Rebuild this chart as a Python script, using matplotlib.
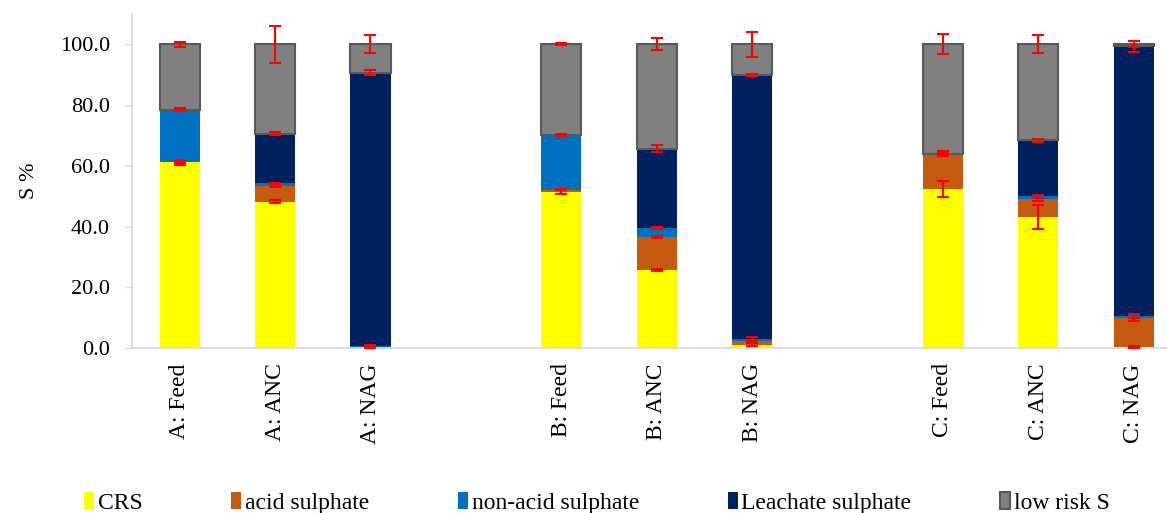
import matplotlib.pyplot as plt
import numpy as np

plt.rcParams['font.family'] = ['Liberation Serif', 'DejaVu Serif']

# Sulphur speciation per sample (% of total S)
categories = ["A: Feed", "A: ANC", "A: NAG",
              "B: Feed", "B: ANC", "B: NAG",
              "C: Feed", "C: ANC", "C: NAG"]
series_names = ["CRS", "acid sulphate", "non-acid sulphate", "Leachate sulphate", "low risk S"]

crs = [61.1, 48.1, 0.0, 51.4, 25.7, 1.0, 52.3, 43.2, 0.3]
acid = [0.0, 5.3, 0.0, 0.8, 10.9, 1.3, 11.7, 5.8, 9.7]
nonacid = [17.4, 0.8, 0.6, 17.9, 3.0, 0.7, 0.0, 1.0, 0.5]
leachate = [0.0, 16.4, 90.1, 0.0, 26.1, 86.8, 0.0, 18.4, 88.8]
lowrisk = [21.5, 29.4, 9.3, 29.9, 34.3, 10.2, 36.0, 31.6, 0.7]

crs_err = [0.7, 0.5, 0.3, 0.6, 0.3, 0.5, 2.6, 3.9, 0.2]
acid_err = [0.3, 0.5, 0.2, 0.3, 0.3, 0.3, 0.9, 0.5, 1.2]
nonacid_err = [0.5, 0.3, 0.3, 0.5, 0.3, 0.5, 0.3, 0.5, 0.5]
leachate_err = [0.3, 0.5, 0.7, 0.3, 1.1, 0.3, 0.3, 0.5, 1.8]
lowrisk_err = [0.9, 6.0, 3.0, 0.3, 2.0, 4.0, 3.3, 3.0, 1.0]

colors = ["#FFFF00", "#C55A11", "#0070C0", "#002060", "#808080"]

# empty slot between the three sample groups
x = np.array([0, 1, 2, 4, 5, 6, 8, 9, 10])

fig = plt.figure(figsize=(11.67, 5.13), dpi=100)
ax = fig.add_axes([132 / 1167, 165 / 513, 1035 / 1167, 334 / 513])

series = [crs, acid, nonacid, leachate, lowrisk]
errors = [crs_err, acid_err, nonacid_err, leachate_err, lowrisk_err]
bottom = np.zeros(len(x))
for name, vals, err, col in zip(series_names, series, errors, colors):
    vals = np.array(vals)
    if name == "low risk S":
        ax.bar(x, vals, 0.42, bottom=bottom, color=col, edgecolor="#595959",
               linewidth=1.5, label=name, zorder=2)
    else:
        ax.bar(x, vals, 0.42, bottom=bottom, color=col, linewidth=0,
               label=name, zorder=2)
    bottom = bottom + vals
    ax.errorbar(x, bottom, yerr=err, fmt="none", ecolor="red", elinewidth=1.5,
                capsize=4.5, capthick=1.5, zorder=3)

ax.set_xlim(-0.5, 10.35)
ax.set_ylim(0, 110)
ax.set_yticks(np.arange(0, 101, 20))
ax.set_yticklabels([f"{v:.1f}" for v in np.arange(0, 101, 20)], fontsize=16)
ax.set_xticks(x)
ax.set_xticklabels(categories, rotation=90, fontsize=17)
ax.tick_params(axis="x", length=0, pad=11)
ax.tick_params(axis="y", length=5, color="#D9D9D9", pad=11)
ax.set_ylabel("S %", fontsize=16, labelpad=15)

for s in ["top", "right"]:
    ax.spines[s].set_visible(False)
for s in ["left", "bottom"]:
    ax.spines[s].set_color("#D9D9D9")
    ax.spines[s].set_linewidth(1.2)

fig.legend(loc="center", bbox_to_anchor=(597 / 1167, 1 - 503 / 513), ncol=5,
           frameon=False, fontsize=17, handlelength=0.42, handleheight=0.75,
           handletextpad=0.15, columnspacing=3.77, borderaxespad=0)

plt.savefig("out.png", dpi=100)
